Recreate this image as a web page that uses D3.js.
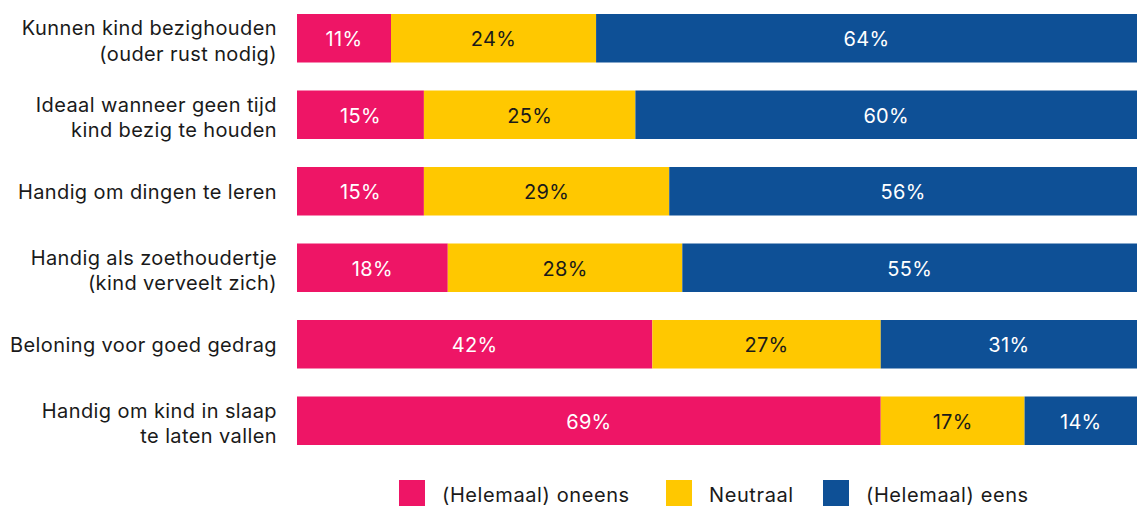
<!DOCTYPE html>
<html>
<head>
<meta charset="utf-8">
<script src="https://cdn.jsdelivr.net/npm/d3@7"></script>
<style>
  html, body { margin: 0; padding: 0; background: #fff; }
  svg { display: block; }
  text { font-family: "Inter", "Noto Sans", sans-serif; letter-spacing: 0.6px; }
  text.cat { letter-spacing: 0.4px; }
  text.val { letter-spacing: 0.3px; }
</style>
</head>
<body>
<svg id="chart" width="1137" height="506"></svg>
<script>
// Stellingen (category labels, split over lines)
const categories = [
  ["Kunnen kind bezighouden", "(ouder rust nodig)"],
  ["Ideaal wanneer geen tijd", "kind bezig te houden"],
  ["Handig om dingen te leren"],
  ["Handig als zoethoudertje", "(kind verveelt zich)"],
  ["Beloning voor goed gedrag"],
  ["Handig om kind in slaap", "te laten vallen"]
];
const seriesNames = ["(Helemaal) oneens", "Neutraal", "(Helemaal) eens"];
const oneens = [11, 15, 15, 18, 42, 69];
const neutraal = [24, 25, 29, 28, 27, 17];
const eens = [64, 60, 56, 55, 31, 14];

const colors = ["#EE1566", "#FFC800", "#0E5096"];
const labelColors = ["#ffffff", "#1a1a1a", "#ffffff"];

const W = 1137, H = 506;
const svg = d3.select("#chart");

const rows = categories.map((c, i) => ({
  key: i,
  [seriesNames[0]]: oneens[i],
  [seriesNames[1]]: neutraal[i],
  [seriesNames[2]]: eens[i]
}));

// each bar is stretched to the full width
const stack = d3.stack().keys(seriesNames).offset(d3.stackOffsetExpand);
const layers = stack(rows);

const x = d3.scaleLinear().domain([0, 1]).range([297, 1143]);
const y = d3.scaleBand()
  .domain(d3.range(categories.length))
  .range([0, 459])
  .paddingInner(0.366)
  .paddingOuter(0.183);

const plot = svg.append("g");

const layerG = plot.selectAll("g.layer").data(layers).join("g")
  .attr("class", "layer")
  .attr("fill", (d, i) => colors[i]);

layerG.selectAll("rect").data(d => d).join("rect")
  .attr("x", d => x(d[0]))
  .attr("y", (d, i) => y(i))
  .attr("width", d => x(d[1]) - x(d[0]))
  .attr("height", y.bandwidth());

const values = [oneens, neutraal, eens];
layers.forEach((layer, li) => {
  plot.append("g").selectAll("text").data(layer).join("text")
    .attr("class", "val")
    .attr("x", d => (x(d[0]) + Math.min(x(d[1]), W)) / 2)
    .attr("y", (d, i) => y(i) + y.bandwidth() / 2 + 8)
    .attr("text-anchor", "middle")
    .attr("font-size", 20)
    .attr("fill", labelColors[li])
    .text((d, i) => values[li][i] + "%");
});

// category labels
const catG = svg.append("g");
categories.forEach((lines, i) => {
  const cy = y(i) + y.bandwidth() / 2;
  const lh = 25.5;
  const shift = lines.length > 1 ? 1.5 : 0;
  const t = catG.append("text")
    .attr("class", "cat")
    .attr("text-anchor", "end")
    .attr("font-size", 20)
    .attr("fill", "#1a1a1a");
  lines.forEach((ln, j) => {
    t.append("tspan")
      .attr("x", 277)
      .attr("y", cy + 8 + shift + (j - (lines.length - 1) / 2) * lh)
      .text(ln);
  });
});

// legend
const legendX = [399, 666, 823];
const legend = svg.append("g");
seriesNames.forEach((name, i) => {
  legend.append("rect")
    .attr("x", legendX[i]).attr("y", 480)
    .attr("width", 26).attr("height", 26)
    .attr("fill", colors[i]);
  legend.append("text")
    .attr("x", legendX[i] + 43).attr("y", 501.5)
    .attr("font-size", 20)
    .attr("fill", "#1a1a1a")
    .text(name);
});
</script>
</body>
</html>
